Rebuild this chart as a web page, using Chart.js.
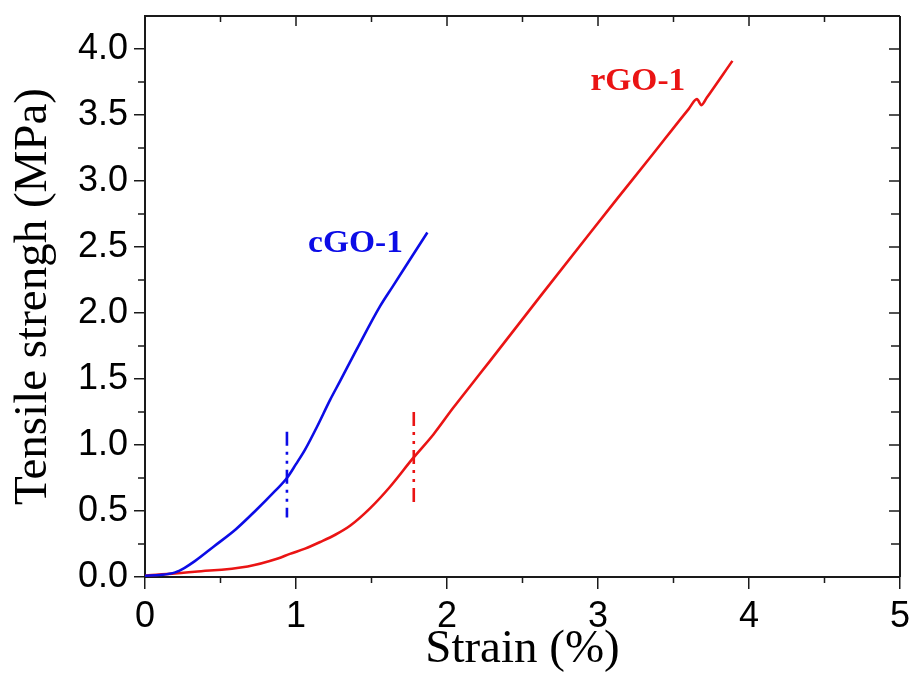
<!DOCTYPE html>
<html>
<head>
<meta charset="utf-8">
<script src="https://cdn.jsdelivr.net/npm/chart.js@4.4.1/dist/chart.umd.min.js"></script>
<style>
  html, body { margin: 0; padding: 0; background: #fff; }
  #wrap { width: 914px; height: 678px; }
</style>
</head>
<body>
<div id="wrap"><canvas id="c"></canvas></div>
<script>
// Stress–strain curves (strain in %, stress in MPa)
const cgoStrain = [0, 0.10, 0.20, 0.26, 0.33, 0.46, 0.60, 0.73, 0.86, 0.94, 1.00, 1.06, 1.14, 1.225, 1.29, 1.40, 1.556, 1.64, 1.755, 1.87];
const cgoStress = [0.01, 0.015, 0.035, 0.068, 0.12, 0.235, 0.36, 0.50, 0.65, 0.75, 0.855, 0.965, 1.14, 1.34, 1.48, 1.72, 2.05, 2.20, 2.405, 2.61];

const rgoStrain = [0, 0.33, 0.68, 0.88, 0.96, 1.06, 1.16, 1.26, 1.36, 1.49, 1.62, 1.775, 1.91, 2.04, 2.17, 2.28, 2.62, 2.95, 3.13, 3.34, 3.60, 3.655, 3.685, 3.72, 3.89];
const rgoStress = [0.01, 0.04, 0.08, 0.14, 0.175, 0.215, 0.265, 0.32, 0.39, 0.52, 0.68, 0.90, 1.08, 1.28, 1.47, 1.63, 2.13, 2.61, 2.87, 3.17, 3.545, 3.62, 3.575, 3.63, 3.91];

// Vertical dash-dot markers (drawn top to bottom)
const cgoMarkStrain = [0.94, 0.94];
const cgoMarkStress = [1.10, 0.45];
const rgoMarkStrain = [1.78, 1.78];
const rgoMarkStress = [1.25, 0.53];

// Axis ticks
const xTicks = [0, 1, 2, 3, 4, 5];
const xMinorTicks = [0.5, 1.5, 2.5, 3.5, 4.5];
const yTicks = [0, 0.5, 1.0, 1.5, 2.0, 2.5, 3.0, 3.5, 4.0];
const yMinorTicks = [0.25, 0.75, 1.25, 1.75, 2.25, 2.75, 3.25, 3.75];

// Series names written next to the curves
const seriesNames = ['cGO-1', 'rGO-1'];
const seriesColors = ['#0c0ce6', '#ea1414'];
const nameAnchors = [[1.08, 2.46], [2.95, 3.69]];

const pts = (xs, ys) => xs.map((x, i) => ({ x: x, y: ys[i] }));

const AXIS = '#1a1a1a';
const MARK_DASH = [14, 6, 3, 6, 3, 6];

const framePlugin = {
  id: 'frame',
  afterDraw(chart) {
    const ctx = chart.ctx;
    const a = chart.chartArea;
    const xs = chart.scales.x, ys = chart.scales.y;
    ctx.save();
    ctx.strokeStyle = AXIS;
    ctx.lineWidth = 2;
    ctx.beginPath();
    ctx.moveTo(a.left, a.top); ctx.lineTo(a.right, a.top);
    ctx.moveTo(a.right, a.top); ctx.lineTo(a.right, a.bottom);
    ctx.stroke();

    ctx.lineWidth = 1.5;
    ctx.beginPath();
    // top: inward ticks
    xTicks.forEach(v => { const p = xs.getPixelForValue(v); ctx.moveTo(p, a.top); ctx.lineTo(p, a.top + 10); });
    xMinorTicks.forEach(v => { const p = xs.getPixelForValue(v); ctx.moveTo(p, a.top); ctx.lineTo(p, a.top + 6); });
    // bottom: outward minor ticks
    xMinorTicks.forEach(v => { const p = xs.getPixelForValue(v); ctx.moveTo(p, a.bottom); ctx.lineTo(p, a.bottom + 6); });
    // right: inward ticks
    yTicks.forEach(v => { const p = ys.getPixelForValue(v); ctx.moveTo(a.right, p); ctx.lineTo(a.right - 11, p); });
    yMinorTicks.forEach(v => { const p = ys.getPixelForValue(v); ctx.moveTo(a.right, p); ctx.lineTo(a.right - 9, p); });
    // left: outward minor ticks
    yMinorTicks.forEach(v => { const p = ys.getPixelForValue(v); ctx.moveTo(a.left, p); ctx.lineTo(a.left - 7, p); });
    ctx.stroke();

    // series names, slightly widened bold serif
    ctx.font = 'bold 31px "Liberation Serif", "Times New Roman", serif';
    ctx.textBaseline = 'alphabetic';
    ctx.textAlign = 'left';
    seriesNames.forEach((name, i) => {
      const px = xs.getPixelForValue(nameAnchors[i][0]);
      const py = ys.getPixelForValue(nameAnchors[i][1]);
      ctx.save();
      ctx.translate(px, py);
      ctx.scale(1.08, 1);
      ctx.fillStyle = seriesColors[i];
      ctx.fillText(name, 0, 0);
      ctx.restore();
    });
    ctx.restore();
  }
};

const lineStyle = {
  showLine: true,
  pointRadius: 0,
  borderWidth: 2.6,
  fill: false,
  cubicInterpolationMode: 'monotone'
};

const markStyle = {
  showLine: true,
  pointRadius: 0,
  borderWidth: 2.6,
  borderDash: MARK_DASH
};

new Chart(document.getElementById('c'), {
  type: 'scatter',
  data: {
    datasets: [
      Object.assign({ label: seriesNames[0], data: pts(cgoStrain, cgoStress), borderColor: seriesColors[0] }, lineStyle),
      Object.assign({ label: seriesNames[1], data: pts(rgoStrain, rgoStress), borderColor: seriesColors[1] }, lineStyle),
      Object.assign({ label: 'cGO-1 mark', data: pts(cgoMarkStrain, cgoMarkStress), borderColor: seriesColors[0] }, markStyle),
      Object.assign({ label: 'rGO-1 mark', data: pts(rgoMarkStrain, rgoMarkStress), borderColor: seriesColors[1] }, markStyle)
    ]
  },
  options: {
    responsive: true,
    maintainAspectRatio: false,
    animation: false,
    layout: { padding: { top: 16, right: 14, left: 0, bottom: 0 } },
    plugins: { legend: { display: false }, tooltip: { enabled: false } },
    scales: {
      x: {
        type: 'linear', min: 0, max: 5,
        afterBuildTicks: s => { s.ticks = xTicks.map(v => ({ value: v })); },
        afterFit: s => { s.height = 101; s.paddingLeft = 0; s.paddingRight = 0; },
        ticks: {
          color: '#000', padding: 6, maxRotation: 0, autoSkip: false,
          font: { family: '"Liberation Sans", Arial, sans-serif', size: 36 },
          callback: v => String(v)
        },
        grid: { drawOnChartArea: false, drawTicks: true, tickLength: 12, color: AXIS, lineWidth: 1.5 },
        border: { display: true, color: AXIS, width: 2 },
        title: {
          display: true, text: 'Strain (%)', color: '#000',
          font: { family: '"Liberation Serif", "Times New Roman", serif', size: 47 },
          padding: { top: 0, bottom: 0 }
        }
      },
      y: {
        type: 'linear', min: 0, max: 4.25,
        afterBuildTicks: s => { s.ticks = yTicks.map(v => ({ value: v })); },
        afterFit: s => { s.width = 145; s.paddingTop = 0; s.paddingBottom = 0; },
        ticks: {
          color: '#000', padding: 6, autoSkip: false,
          font: { family: '"Liberation Sans", Arial, sans-serif', size: 36 },
          callback: v => Number(v).toFixed(1)
        },
        grid: { drawOnChartArea: false, drawTicks: true, tickLength: 11, color: AXIS, lineWidth: 1.5 },
        border: { display: true, color: AXIS, width: 2 },
        title: {
          display: true, text: 'Tensile strengh (MPa)', color: '#000',
          font: { family: '"Liberation Serif", "Times New Roman", serif', size: 47 },
          padding: { top: 5, bottom: 0 }
        }
      }
    }
  },
  plugins: [framePlugin]
});
</script>
</body>
</html>
